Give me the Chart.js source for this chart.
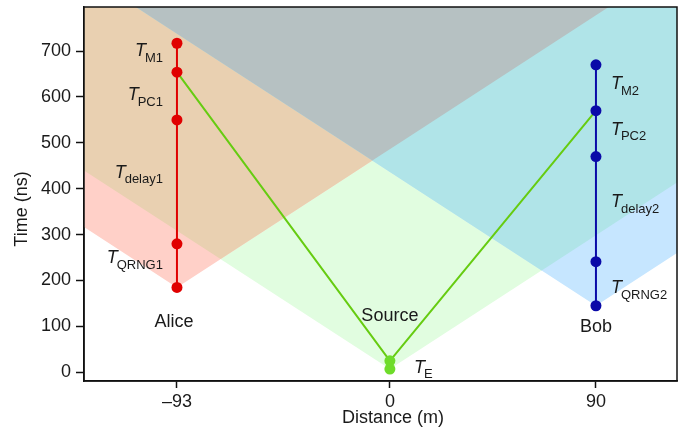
<!DOCTYPE html>
<html>
<head>
<meta charset="utf-8">
<script src="https://cdn.jsdelivr.net/npm/chart.js@4.4.1/dist/chart.umd.min.js"></script>
<style>
  html, body { margin: 0; padding: 0; background: #fff; }
</style>
</head>
<body>
<canvas id="spacetime" width="686" height="433"></canvas>
<script>
// positions along the line (m)
const alicePos = -93;
const bobPos = 90;
const sourcePos = 0;

// event times (ns), bottom to top
const aliceTimes = [185, 280, 550, 654, 717];
const bobTimes = [145, 241, 470, 570, 670];
const sourceTimes = [7, 25];

// light cone slope as drawn (ns per metre)
const nsPerMetre = 3.24;

const xTicks = [-93, 0, 90];
const yTicks = [0, 100, 200, 300, 400, 500, 600, 700];

// interval tags and where they sit (ns)
const aliceTags = ['M1', 'PC1', 'delay1', 'QRNG1'];
const aliceTagTimes = [703, 607, 438, 252];
const bobTags = ['M2', 'PC2', 'delay2', 'QRNG2'];
const bobTagTimes = [631, 532, 374, 186];

const xMin = -133.6, xMax = 125.4;
const yMin = -19, yMax = 796;

const FONT = '"Liberation Sans", Arial, Helvetica, sans-serif';
const INK = '#1a1a1a';

// upper edge of the region inside all the given future light cones
function envelope(cones) {
    let xs = [xMin, xMax];
    cones.forEach(c => xs.push(c.x));
    for (let i = 0; i < cones.length; i++) {
        for (let j = 0; j < cones.length; j++) {
            if (i == j) continue;
            let x = (cones[i].t - cones[j].t) / (2 * nsPerMetre) + (cones[i].x + cones[j].x) / 2;
            xs.push(x);
        }
    }
    xs = xs.filter(x => x >= xMin && x <= xMax).sort((a, b) => a - b);
    return xs.map(x => ({
        x: x,
        y: Math.max(...cones.map(c => c.t + nsPerMetre * Math.abs(x - c.x)))
    }));
}

const coneA = { x: alicePos, t: aliceTimes[0] };
const coneB = { x: bobPos, t: bobTimes[0] };
const coneS = { x: sourcePos, t: sourceTimes[0] };

function region(cones, color, order) {
    return {
        data: envelope(cones),
        fill: 'end',
        backgroundColor: color,
        borderWidth: 0,
        pointRadius: 0,
        order: order
    };
}

const datasets = [
    {
        data: sourceTimes.map(t => ({ x: sourcePos, y: t })),
        showLine: false,
        pointRadius: 5.5,
        pointBackgroundColor: '#6edc2a',
        pointBorderWidth: 0,
        order: 1
    },
    {
        data: aliceTimes.map(t => ({ x: alicePos, y: t })),
        borderColor: '#e00000',
        borderWidth: 2,
        pointRadius: 5.5,
        pointBackgroundColor: '#e00000',
        pointBorderWidth: 0,
        order: 5
    },
    {
        data: bobTimes.map(t => ({ x: bobPos, y: t })),
        borderColor: '#0a0aa8',
        borderWidth: 2,
        pointRadius: 5.5,
        pointBackgroundColor: '#0a0aa8',
        pointBorderWidth: 0,
        order: 5
    },
    {
        data: [
            { x: alicePos, y: aliceTimes[3] },
            { x: sourcePos, y: sourceTimes[1] },
            { x: bobPos, y: bobTimes[3] }
        ],
        borderColor: '#66cc11',
        borderWidth: 2,
        pointRadius: 0,
        order: 10
    },
    region([coneA, coneB], '#b6c1c2', 95),
    region([coneB, coneS], '#b0e4e8', 96),
    region([coneA, coneS], '#e9d0b1', 97),
    region([coneB], '#c6e6ff', 98),
    region([coneA], '#ffd0c8', 99),
    region([coneS], '#e1fde0', 100)
];

function drawTag(ctx, sub, x, y, alignRight) {
    ctx.textBaseline = 'alphabetic';
    ctx.textAlign = 'left';
    ctx.font = 'italic 18px ' + FONT;
    let wT = ctx.measureText('T').width;
    ctx.font = '13px ' + FONT;
    let wS = ctx.measureText(sub).width;
    let x0 = alignRight ? x - (wT + wS - 1) : x;
    ctx.font = 'italic 18px ' + FONT;
    ctx.fillText('T', x0, y);
    ctx.font = '13px ' + FONT;
    ctx.fillText(sub, x0 + wT - 1, y + 5.5);
}

const labelsPlugin = {
    id: 'labels',
    afterDatasetsDraw(chart) {
        const ctx = chart.ctx;
        const xs = chart.scales.x, ys = chart.scales.y;
        const a = chart.chartArea;
        ctx.save();
        ctx.strokeStyle = '#111';
        ctx.lineWidth = 1.5;
        ctx.strokeRect(a.left, a.top, a.right - a.left, a.bottom - a.top);

        ctx.fillStyle = INK;
        aliceTags.forEach((s, i) => {
            drawTag(ctx, s, xs.getPixelForValue(alicePos) - 14, ys.getPixelForValue(aliceTagTimes[i]) + 6.5, true);
        });
        bobTags.forEach((s, i) => {
            drawTag(ctx, s, xs.getPixelForValue(bobPos) + 15, ys.getPixelForValue(bobTagTimes[i]) + 6.5, false);
        });
        drawTag(ctx, 'E', xs.getPixelForValue(sourcePos) + 24, ys.getPixelForValue(13) + 6.5, false);

        ctx.font = '18px ' + FONT;
        ctx.textAlign = 'center';
        ctx.textBaseline = 'alphabetic';
        ctx.fillText('Alice', xs.getPixelForValue(alicePos) - 3, ys.getPixelForValue(99));
        ctx.fillText('Bob', xs.getPixelForValue(bobPos), ys.getPixelForValue(88));
        ctx.fillText('Source', xs.getPixelForValue(sourcePos), ys.getPixelForValue(112));

        // axis titles
        ctx.fillText('Distance (m)', 393, 423);
        ctx.translate(27, 209);
        ctx.rotate(-Math.PI / 2);
        ctx.fillText('Time (ns)', 0, 0);
        ctx.restore();
    }
};

function noEdgePadding(s) {
    s.paddingTop = 0;
    s.paddingBottom = 0;
    s.paddingLeft = 0;
    s.paddingRight = 0;
}

new Chart(document.getElementById('spacetime'), {
    type: 'line',
    data: { datasets: datasets },
    options: {
        responsive: false,
        animation: false,
        layout: { padding: { top: 7, right: 9, left: 0, bottom: 0 } },
        plugins: {
            legend: { display: false },
            tooltip: { enabled: false }
        },
        elements: { line: { tension: 0 } },
        scales: {
            x: {
                type: 'linear',
                min: xMin,
                max: xMax,
                afterBuildTicks: s => { s.ticks = xTicks.map(v => ({ value: v })); },
                afterFit: s => { s.height = 52; noEdgePadding(s); },
                grid: { drawOnChartArea: false, drawTicks: true, tickLength: 7, tickColor: '#111', tickWidth: 1.5 },
                border: { display: true, color: '#111', width: 1.5 },
                ticks: {
                    color: INK,
                    font: { size: 18, family: FONT },
                    padding: 3,
                    maxRotation: 0,
                    autoSkip: false,
                    callback: v => v < 0 ? '\u2013' + (-v) : String(v)
                }
            },
            y: {
                type: 'linear',
                min: yMin,
                max: yMax,
                afterBuildTicks: s => { s.ticks = yTicks.map(v => ({ value: v })); },
                afterFit: s => { s.width = 84; noEdgePadding(s); },
                grid: { drawOnChartArea: false, drawTicks: true, tickLength: 8, tickColor: '#111', tickWidth: 1.5 },
                border: { display: true, color: '#111', width: 1.5 },
                ticks: {
                    color: INK,
                    font: { size: 18, family: FONT },
                    padding: 5,
                    autoSkip: false
                }
            }
        }
    },
    plugins: [labelsPlugin]
});
</script>
</body>
</html>
